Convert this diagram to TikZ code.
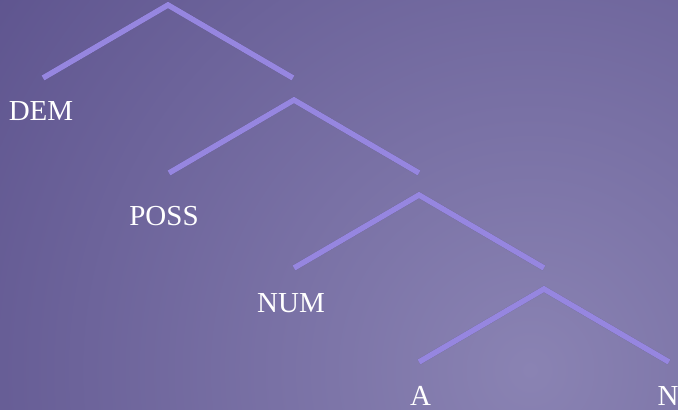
\documentclass[tikz,border=0pt]{standalone}
\usepackage{fontspec}
\setmainfont{Liberation Serif}
\begin{document}
\begin{tikzpicture}[x=1pt,y=-1pt,
  branch/.style={draw=branchcol, line width=5.6pt, line join=miter},
  branchshadow/.style={draw=black, opacity=0.2, line width=5.8pt, line join=miter},
  lab/.style={anchor=base, inner sep=0pt, text=white, font=\fontsize{29}{33}\selectfont}]
\definecolor{branchcol}{HTML}{9686E0}
\definecolor{bginner}{HTML}{8A83B3}
\definecolor{bgouter}{HTML}{3E3274}
\useasboundingbox (0,0) rectangle (678,410);
\begin{scope}
  \clip (0,0) rectangle (678,410);
  \shade[inner color=bginner, outer color=bgouter] (530,370) circle (1150);
\end{scope}
% tree coordinates
\foreach \i/\ax/\ay in {1/168/5, 2/294/100, 3/419/195, 4/544/289} {
  \coordinate (t\i) at (\ax,\ay);
  \coordinate (l\i) at (\ax-125,\ay+73);
  \coordinate (r\i) at (\ax+125,\ay+73);
}
\foreach \i in {1,...,4} {
  \draw[branchshadow, shift={(1,2)}] (l\i) -- (t\i) -- (r\i);
}
\foreach \i in {1,...,4} {
  \draw[branch] (l\i) -- (t\i) -- (r\i);
}
\node[lab] (dem) at (41,120) {DEM};
\node[lab] (poss) at (164,225) {POSS};
\node[lab] (num) at (291,312) {NUM};
\node[lab] (a) at (420.5,405) {A};
\node[lab] (n) at (668,405) {N};
\end{tikzpicture}
\end{document}
